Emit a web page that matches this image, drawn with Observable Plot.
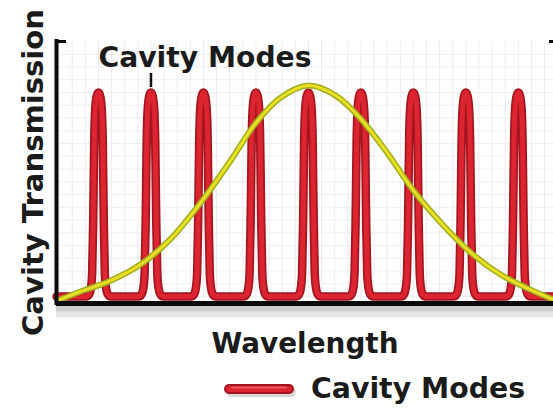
<!DOCTYPE html>
<html><head><meta charset="utf-8">
<script src="https://cdn.jsdelivr.net/npm/d3@7"></script>
<script src="https://cdn.jsdelivr.net/npm/@observablehq/plot@0.6"></script>
<style>
body{margin:0;background:#fff;}
#chart{width:553px;height:411px;position:relative;overflow:hidden;}
#chart svg{display:block;}
</style>
</head><body><div id="chart"></div>
<script>
// ---- data ----
const modeCenters = [1, 2, 3, 4, 5, 6, 7, 8, 9];
// one mode's line shape (offset from its centre, relative transmission)
const modeProfileOffset = [-0.235, -0.18, -0.14, -0.12, -0.102, -0.092, -0.082, -0.062, -0.031, 0, 0.031, 0.062, 0.082, 0.092, 0.102, 0.12, 0.14, 0.18, 0.235];
const modeProfileValue  = [0, 0.01, 0.05, 0.12, 0.35, 0.55, 0.75, 0.92, 0.985, 1, 0.985, 0.92, 0.75, 0.55, 0.35, 0.12, 0.05, 0.01, 0];
const wavelengthRange = [0.2, 9.67];
const transmissionRange = [-0.034, 1.25];
// gain envelope (yellow)
const gainX = [0.22, 0.66, 1.23, 1.80, 2.38, 2.95, 3.52, 3.99, 4.47, 5.0, 5.52, 5.99, 6.47, 7.0, 7.52, 8.09, 8.66, 9.23, 9.67];
const gainY = [-0.02, 0.025, 0.078, 0.157, 0.284, 0.461, 0.667, 0.848, 0.975, 1.034, 0.985, 0.873, 0.716, 0.52, 0.363, 0.216, 0.108, 0.034, -0.015];
const yTitle = "Cavity Transmission";
const xTitle = "Wavelength";
const annotationText = "Cavity Modes";
const legendText = "Cavity Modes";

// ---- tables built from the arrays ----
const modeCurve = [{x: wavelengthRange[0], y: 0}];
for (const c of modeCenters) {
  modeProfileOffset.forEach((o, i) => modeCurve.push({x: c + o, y: modeProfileValue[i]}));
}
modeCurve.push({x: wavelengthRange[1], y: 0});
const gain = gainX.map((x, i) => ({x, y: gainY[i]}));

const font = "DejaVu Sans";
const ink = "#1b1b1b";

const chart = Plot.plot({
  width: 553, height: 365,
  marginLeft: 56, marginRight: 0, marginTop: 41, marginBottom: 62,
  x: {domain: wavelengthRange, axis: null},
  y: {domain: transmissionRange, axis: null},
  style: {fontFamily: font, background: "#fff", overflow: "visible"},
  marks: [
    Plot.gridX(d3.range(0.25, 9.67, 0.25), {stroke: "#f3e8ee", strokeOpacity: 1}),
    Plot.gridY(d3.range(0, 1.25, 0.0625), {stroke: "#e9f0f3", strokeOpacity: 1}),
    // shadow under the bottom axis
    Plot.ruleY([transmissionRange[0]], {stroke: "#000", strokeOpacity: 0.10, strokeWidth: 12, dy: 8}),
    Plot.ruleY([transmissionRange[0]], {stroke: "#000", strokeOpacity: 0.10, strokeWidth: 6, dy: 5}),
    // cavity modes
    Plot.line(modeCurve, {x: "x", y: "y", stroke: "#a4151e", strokeWidth: 8.5, curve: "monotone-x"}),
    Plot.line(modeCurve, {x: "x", y: "y", stroke: "#dc2530", strokeWidth: 5, curve: "monotone-x"}),
    // gain envelope
    Plot.line(gain, {x: "x", y: "y", stroke: "#9bb01c", strokeWidth: 6, curve: "catmull-rom"}),
    Plot.line(gain, {x: "x", y: "y", stroke: "#f2e226", strokeOpacity: 0.92, strokeWidth: 3, curve: "catmull-rom"}),
    // axes
    Plot.ruleY([transmissionRange[0]], {stroke: "#0a0a0a", strokeWidth: 5}),
    Plot.ruleX([wavelengthRange[0]], {stroke: "#0a0a0a", strokeWidth: 4, strokeLinecap: "square"}),
    Plot.ruleY([transmissionRange[1]], {stroke: "#0a0a0a", strokeWidth: 3, insetRight: 487}),
    Plot.ruleY([transmissionRange[1]], {stroke: "#0a0a0a", strokeWidth: 3, insetLeft: 493}),
    // annotation
    Plot.ruleX([modeCenters[1]], {stroke: "#111", strokeWidth: 2.5, insetTop: 32, insetBottom: 216}),
    Plot.text([annotationText], {x: modeCenters[0], frameAnchor: "top", text: d => d, textAnchor: "start",
      lineAnchor: "bottom", dy: 25, fontSize: 28, fontWeight: "bold", fill: ink, className: "annot"}),
    // axis titles
    Plot.text([xTitle], {frameAnchor: "bottom", text: d => d, textAnchor: "middle", lineAnchor: "bottom", dy: 49,
      fontSize: 28, fontWeight: "bold", fill: ink, className: "xlab"}),
    Plot.text([yTitle], {frameAnchor: "left", text: d => d, textAnchor: "middle", lineAnchor: "middle",
      rotate: -90, dx: -23, fontSize: 29, fontWeight: "bold", fill: ink, className: "ylab"})
  ]
});

function fit(svg, cls, len) {
  svg.querySelectorAll(`.${cls} text`).forEach(t => {
    t.setAttribute("textLength", len);
    t.setAttribute("lengthAdjust", "spacingAndGlyphs");
  });
}
fit(chart, "annot", 213);
fit(chart, "xlab", 187);
fit(chart, "ylab", 327);

const root = document.getElementById("chart");
root.appendChild(chart);

// legend below the chart
const ns = "http://www.w3.org/2000/svg";
const leg = d3.create("svg").attr("xmlns", ns).attr("width", 553).attr("height", 46)
  .style("font-family", font).style("background", "#fff");
leg.append("line").attr("x1", 231).attr("x2", 291).attr("y1", 27).attr("y2", 27)
  .attr("stroke", "#000").attr("stroke-opacity", 0.15).attr("stroke-width", 10).attr("stroke-linecap", "round");
leg.append("line").attr("x1", 229).attr("x2", 289).attr("y1", 24).attr("y2", 24)
  .attr("stroke", "#a4151e").attr("stroke-width", 10).attr("stroke-linecap", "round");
leg.append("line").attr("x1", 229).attr("x2", 289).attr("y1", 24).attr("y2", 24)
  .attr("stroke", "#dc2530").attr("stroke-width", 6).attr("stroke-linecap", "round");
leg.append("line").attr("x1", 232).attr("x2", 286).attr("y1", 22.5).attr("y2", 22.5)
  .attr("stroke", "#f06666").attr("stroke-width", 1.5).attr("stroke-linecap", "round");
leg.append("text").attr("x", 311).attr("y", 33).attr("font-size", 28).attr("font-weight", "bold")
  .attr("fill", ink).attr("textLength", 214).attr("lengthAdjust", "spacingAndGlyphs").text(legendText);
root.appendChild(leg.node());
</script>
</body></html>
